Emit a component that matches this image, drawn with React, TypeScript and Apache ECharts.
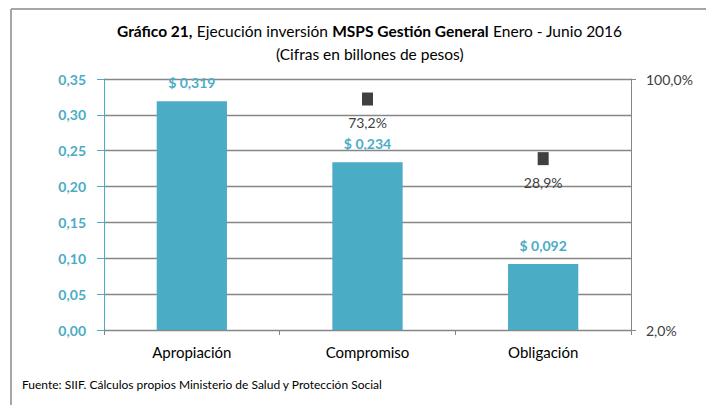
import React, { useEffect, useRef } from "react";
import * as echarts from "echarts";

const categories = ["Apropiación", "Compromiso", "Obligación"];
const amounts = [0.319, 0.234, 0.092];
const percents: (number | null)[] = [null, 73.2, 28.9];

const FONT = "Lato";
const TEAL = "#4BACC6";
const DARK = "#404040";
const GRID = "#868686";

export default function App() {
  const ref = useRef<HTMLDivElement>(null);
  useEffect(() => {
    if (!ref.current) return;
    const chart = echarts.init(ref.current, undefined, { renderer: "svg" });
    chart.setOption({
      animation: false,
      backgroundColor: "#ffffff",
      textStyle: { fontFamily: FONT },
      title: {
        left: 112,
        top: 14,
        text:
          "{b|Gráfico 21,} {n|Ejecución inversión} {b|MSPS Gestión General} {n|Enero - Junio 2016}\n{c|(Cifras en billones de pesos)}",
        textStyle: {
          rich: {
            b: { fontFamily: FONT, fontSize: 15.5, fontWeight: "bold", color: "#000", lineHeight: 23 },
            n: { fontFamily: FONT, fontSize: 15.5, fontWeight: "normal", color: "#000", lineHeight: 23 },
            c: { fontFamily: FONT, fontSize: 15.5, fontWeight: "normal", color: "#000", lineHeight: 23, align: "center", width: 505 },
          },
        },
      },
      grid: { left: 104, right: 75, top: 79, bottom: 75, containLabel: false },
      xAxis: {
        type: "category",
        data: categories,
        axisLine: { lineStyle: { color: GRID, width: 1 } },
        axisTick: { show: true, length: 5, alignWithLabel: false, lineStyle: { color: GRID } },
        axisLabel: { color: "#000", fontSize: 15, fontFamily: FONT, margin: 14 },
      },
      yAxis: [
        {
          type: "value",
          min: 0,
          max: 0.35,
          interval: 0.05,
          axisLine: { show: true, lineStyle: { color: TEAL, width: 1 } },
          axisTick: { show: true, length: 7, lineStyle: { color: TEAL } },
          axisLabel: {
            color: TEAL,
            fontSize: 14,
            fontWeight: "bold",
            fontFamily: FONT,
            margin: 18,
            formatter: (v: number) => v.toFixed(2).replace(".", ","),
          },
          splitLine: { show: true, lineStyle: { color: GRID, width: 1.3 } },
        },
        {
          type: "log",
          logBase: 10,
          min: 2,
          max: 100,
          position: "right",
          axisLine: { show: true, lineStyle: { color: GRID, width: 1 } },
          axisTick: { show: false },
          splitLine: { show: false },
          axisLabel: {
            color: DARK,
            fontSize: 14,
            fontFamily: FONT,
            margin: 15,
            showMinLabel: true,
            showMaxLabel: true,
            formatter: (v: number) => {
              if (Math.abs(v - 2) < 0.01) return "2,0%";
              if (Math.abs(v - 100) < 0.5) return "100,0%";
              return "";
            },
          },
        },
        {
          type: "value",
          min: 0,
          max: 1,
          interval: 1,
          position: "right",
          axisLine: { show: false },
          axisTick: { show: true, length: 5, lineStyle: { color: GRID } },
          axisLabel: { show: false },
          splitLine: { show: false },
        },
      ],
      series: [
        {
          type: "bar",
          data: amounts,
          barWidth: "40%",
          itemStyle: { color: TEAL },
          label: {
            show: true,
            position: "top",
            distance: 12,
            color: TEAL,
            fontSize: 14,
            fontWeight: "bold",
            fontFamily: FONT,
            formatter: (p: any) => "$ " + Number(p.value).toFixed(3).replace(".", ","),
          },
        },
        {
          type: "line",
          yAxisIndex: 1,
          data: percents,
          symbol: "rect",
          symbolSize: [11, 13],
          itemStyle: { color: DARK },
          lineStyle: { opacity: 0, width: 0 },
          label: {
            show: true,
            position: "bottom",
            distance: 10,
            color: DARK,
            fontSize: 14,
            fontFamily: FONT,
            formatter: (p: any) => Number(p.value).toFixed(1).replace(".", ",") + "%",
          },
        },
      ],
      graphic: [
        { type: "line", shape: { x1: 11, y1: 9, x2: 706, y2: 9 }, style: { stroke: "#A6A6A6", lineWidth: 2 } },
        { type: "line", shape: { x1: 11, y1: 9, x2: 11, y2: 405 }, style: { stroke: "#A6A6A6", lineWidth: 2 } },
        {
          type: "text",
          left: 22,
          top: 378,
          style: {
            text: "Fuente: SIIF. Cálculos propios Ministerio de Salud y Protección Social",
            fontSize: 12,
            fontFamily: FONT,
            fill: "#000",
          },
        },
      ],
    });
    return () => chart.dispose();
  }, []);
  return (
    <div
      ref={ref}
      style={{ position: "fixed", left: 0, top: 0, width: 706, height: 405 }}
    />
  );
}
